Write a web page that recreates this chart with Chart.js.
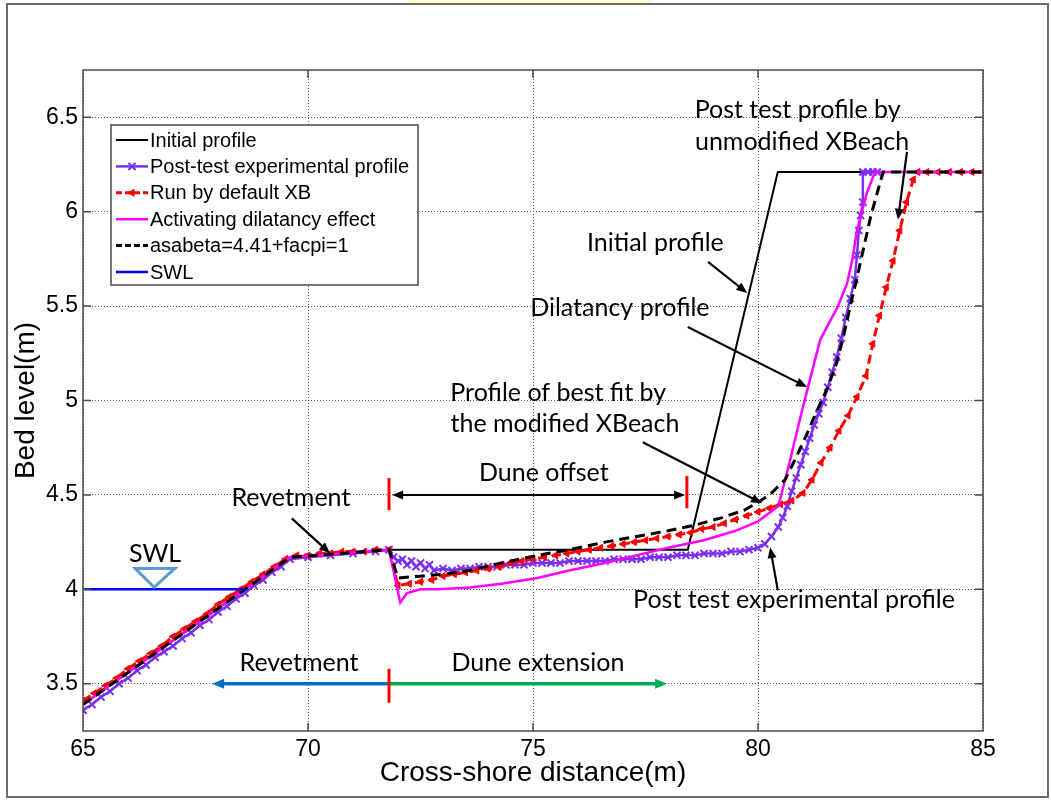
<!DOCTYPE html>
<html>
<head>
<meta charset="utf-8">
<script src="https://cdn.jsdelivr.net/npm/chart.js@4.4.0/dist/chart.umd.min.js"></script>
<style>
  html, body { margin: 0; padding: 0; background: #fff; }
</style>
</head>
<body>
<canvas id="chart" width="1051" height="801"></canvas>
<script>
// tick labels
const xTickValues = [65, 70, 75, 80, 85];
const yTickValues = [3.5, 4, 4.5, 5, 5.5, 6, 6.5];

// Initial profile
const initialX = [65, 69.6, 71.8, 78.44, 80.44, 85];
const initialY = [3.39, 4.17, 4.21, 4.21, 6.21, 6.21];

// Post-test experimental profile
const postX = [65.0,65.2,65.4,65.6,65.8,66.0,66.2,66.4,66.6,66.8,67.0,67.2,67.4,67.6,67.8,68.0,68.2,68.4,68.6,68.8,69.0,69.2,69.4,69.6,
  70.0,70.5,71.0,71.5,71.8,
  71.9,72.0,72.1,72.2,72.3,72.4,72.5,72.6,72.7,72.8,
  73.0,73.2,73.4,73.6,73.8,74.0,74.2,74.4,74.6,74.8,75.0,75.2,75.4,75.6,75.8,76.0,76.2,76.4,76.6,76.8,
  77.0,77.2,77.4,77.6,77.8,78.0,78.2,78.4,78.6,78.8,79.0,79.2,79.4,79.6,79.8,80.0,
  80.15,80.3,80.45,80.55,80.65,80.75,80.85,80.95,81.05,81.15,81.25,81.35,81.45,81.55,81.65,81.75,81.85,81.95,82.05,82.15,
  82.2,82.24,82.28,82.33,82.33,82.45,82.55,82.65];
const postY = [3.36,3.39,3.43,3.46,3.50,3.53,3.57,3.60,3.64,3.67,3.70,3.74,3.77,3.81,3.84,3.88,3.91,3.95,3.98,4.02,4.05,4.09,4.12,4.16,
  4.17,4.18,4.19,4.20,4.21,
  4.17,4.15,4.16,4.13,4.15,4.12,4.14,4.11,4.13,4.10,
  4.11,4.10,4.11,4.11,4.12,4.12,4.12,4.13,4.13,4.13,4.14,4.14,4.14,4.14,4.15,4.15,4.15,4.15,4.15,4.16,
  4.16,4.16,4.16,4.17,4.17,4.17,4.18,4.18,4.18,4.19,4.19,4.19,4.20,4.20,4.21,4.22,
  4.24,4.28,4.33,4.38,4.44,4.52,4.59,4.66,4.73,4.80,4.87,4.93,4.99,5.07,5.15,5.23,5.33,5.44,5.54,5.64,
  5.77,5.90,5.98,6.05,6.21,6.21,6.21,6.21];

// Run by default XB
const defaultX = [65.0,65.25,65.5,65.75,66.0,66.25,66.5,66.75,67.0,67.25,67.5,67.75,68.0,68.25,68.5,68.75,69.0,69.25,69.5,69.75,70.0,70.25,70.5,70.75,71.0,71.25,71.5,
  71.8,
  72.0,72.25,72.5,72.75,73.0,73.25,73.5,73.75,74.0,74.25,74.5,74.75,75.0,75.25,75.5,75.75,76.0,76.25,76.5,76.75,77.0,77.25,77.5,77.75,78.0,78.25,78.5,78.75,79.0,79.25,79.5,79.75,80.0,80.25,80.5,80.75,81.0,
  81.2,81.4,81.6,81.8,82.0,82.2,82.4,
  82.55,82.7,82.85,83.0,83.15,83.3,83.45,83.55,
  83.75,84.0,84.25,84.5,84.75,85.0];
const defaultY = [3.41,3.45,3.49,3.53,3.58,3.62,3.66,3.70,3.75,3.79,3.83,3.87,3.92,3.96,4.00,4.04,4.08,4.12,4.16,4.18,4.18,4.19,4.19,4.20,4.20,4.20,4.21,
  4.21,
  4.02,4.03,4.04,4.05,4.07,4.08,4.09,4.10,4.11,4.12,4.14,4.15,4.16,4.17,4.18,4.19,4.20,4.21,4.22,4.23,4.24,4.25,4.26,4.27,4.28,4.29,4.30,4.32,4.33,4.35,4.37,4.39,4.41,4.43,4.45,4.47,4.51,
  4.58,4.67,4.75,4.84,4.92,5.02,5.13,
  5.30,5.45,5.60,5.74,5.90,6.05,6.17,6.21,
  6.21,6.21,6.21,6.21,6.21,6.21];

// Activating dilatancy effect
const dilatX = [65, 69.6, 71.8, 72.05, 72.2, 72.5, 72.9, 73.6, 74.3, 75.1, 75.8, 76.6, 77.3,
  78.0, 78.8, 79.5, 80.0, 80.45, 80.7, 80.9, 81.1, 81.38, 81.6, 81.76, 81.98, 82.1, 82.2, 82.42, 82.6, 85];
const dilatY = [3.39, 4.17, 4.21, 3.93, 3.98, 4.00, 4.00, 4.01, 4.03, 4.06, 4.10, 4.14, 4.18,
  4.22, 4.26, 4.31, 4.36, 4.44, 4.67, 4.87, 5.06, 5.32, 5.42, 5.49, 5.62, 5.75, 5.90, 6.10, 6.21, 6.21];

// asabeta=4.41+facpi=1
const bestX = [65, 69.6, 71.8, 72.0, 72.5, 73.0, 73.6, 74.3, 75.1, 75.8, 76.6, 77.3, 78.0,
  78.6, 79.2, 79.7, 80.0, 80.3, 80.6, 80.85, 81.1, 81.3, 81.55, 81.75, 81.9, 82.05, 82.2, 82.35, 82.5, 82.65, 82.78, 85];
const bestY = [3.39, 4.17, 4.21, 4.06, 4.07, 4.08, 4.10, 4.14, 4.18, 4.21, 4.25, 4.28, 4.31,
  4.34, 4.38, 4.42, 4.46, 4.51, 4.58, 4.70, 4.83, 4.94, 5.07, 5.20, 5.34, 5.50, 5.65, 5.81, 5.97, 6.10, 6.21, 6.21];

// SWL
const swlX = [65, 68.6];
const swlY = [4, 4];

const toPoints = (xs, ys) => xs.map((x, i) => ({ x: x, y: ys[i] }));

// text notes and arrows, in data units
const notes = [
  { text: 'Post test profile by', x: 80.88, y: 6.54 },
  { text: 'unmodified XBeach', x: 80.98, y: 6.37 },
  { text: 'Initial profile', x: 77.72, y: 5.835 },
  { text: 'Dilatancy profile', x: 76.93, y: 5.49 },
  { text: 'Profile of best fit by', x: 75.56, y: 5.039 },
  { text: 'the modified XBeach', x: 75.71, y: 4.875 },
  { text: 'Dune offset', x: 75.24, y: 4.615 },
  { text: 'Revetment', x: 69.62, y: 4.483 },
  { text: 'SWL', x: 66.6, y: 4.19 },
  { text: 'Post test experimental profile', x: 80.8, y: 3.942 },
  { text: 'Revetment', x: 69.8, y: 3.608 },
  { text: 'Dune extension', x: 75.11, y: 3.608 }
];
const pointerArrows = [
  [83.31, 6.317, 83.11, 5.957],
  [78.89, 5.734, 79.76, 5.569],
  [78.44, 5.389, 81.09, 5.071],
  [77.44, 4.779, 80.09, 4.456],
  [69.64, 4.376, 70.49, 4.191],
  [80.44, 3.995, 80.27, 4.223]
];

const noteFont = '25px Lato, "Open Sans", sans-serif';
const axisFont = 'Liberation Sans';

function arrowHead(c, x1, y1, x2, y2, head, half) {
  const a = Math.atan2(y2 - y1, x2 - x1);
  const bx = x2 - head * Math.cos(a), by = y2 - head * Math.sin(a);
  c.beginPath();
  c.moveTo(x2, y2);
  c.lineTo(bx + half * Math.sin(a), by - half * Math.cos(a));
  c.lineTo(bx - half * Math.sin(a), by + half * Math.cos(a));
  c.closePath();
  c.fill();
}

function arrow(c, x1, y1, x2, y2, color, w, head, half, both) {
  const a = Math.atan2(y2 - y1, x2 - x1);
  c.strokeStyle = color;
  c.fillStyle = color;
  c.lineWidth = w;
  c.beginPath();
  c.moveTo(both ? x1 + Math.cos(a) * head * 0.7 : x1, both ? y1 + Math.sin(a) * head * 0.7 : y1);
  c.lineTo(x2 - Math.cos(a) * head * 0.7, y2 - Math.sin(a) * head * 0.7);
  c.stroke();
  arrowHead(c, x1, y1, x2, y2, head, half);
  if (both) arrowHead(c, x2, y2, x1, y1, head, half);
}

function legendMarker(c, ds, x, y) {
  const r = ds.pointRadius || 0;
  if (!r) return;
  c.setLineDash([]);
  c.strokeStyle = ds.pointBorderColor;
  c.fillStyle = ds.pointBackgroundColor || ds.pointBorderColor;
  c.lineWidth = ds.pointBorderWidth || 1;
  c.beginPath();
  if (ds.pointStyle === 'crossRot') {
    const d = r * 0.707;
    c.moveTo(x - d, y - d); c.lineTo(x + d, y + d);
    c.moveTo(x + d, y - d); c.lineTo(x - d, y + d);
    c.stroke();
  } else if (ds.pointStyle === 'triangle') {
    c.moveTo(x - r, y); c.lineTo(x + r * 0.5, y - r * 0.87); c.lineTo(x + r * 0.5, y + r * 0.87);
    c.closePath(); c.fill(); c.stroke();
  }
}

const decor = {
  id: 'decor',
  beforeDraw(chart) {
    const c = chart.ctx;
    c.save();
    c.fillStyle = '#fff';
    c.fillRect(0, 0, chart.width, chart.height);
    c.fillStyle = '#ffffcc';
    c.fillRect(409, 0, 242, 3);
    c.strokeStyle = '#6a6a6a';
    c.lineWidth = 2;
    c.strokeRect(7, 4, 1041, 793);
    c.restore();
  },
  afterDatasetsDraw(chart) {
    const c = chart.ctx;
    const a = chart.chartArea;
    const sx = chart.scales.x, sy = chart.scales.y;
    const px = v => sx.getPixelForValue(v), py = v => sy.getPixelForValue(v);
    c.save();

    // box and inner ticks
    c.setLineDash([]);
    c.strokeStyle = '#4a4a4a';
    c.lineWidth = 1.5;
    c.strokeRect(a.left, a.top, a.right - a.left, a.bottom - a.top);
    c.beginPath();
    xTickValues.slice(1, -1).forEach(v => {
      c.moveTo(px(v), a.bottom); c.lineTo(px(v), a.bottom - 8);
      c.moveTo(px(v), a.top); c.lineTo(px(v), a.top + 8);
    });
    yTickValues.forEach(v => {
      c.moveTo(a.left, py(v)); c.lineTo(a.left + 8, py(v));
      c.moveTo(a.right, py(v)); c.lineTo(a.right - 8, py(v));
    });
    c.stroke();

    // legend
    const lx = a.left + 28, ly = a.top + 55, lw = 307, lh = 160;
    c.fillStyle = '#fff';
    c.fillRect(lx, ly, lw, lh);
    c.strokeStyle = '#4a4a4a';
    c.lineWidth = 1.5;
    c.strokeRect(lx, ly, lw, lh);
    c.font = '20px ' + axisFont;
    c.textBaseline = 'middle';
    c.textAlign = 'left';
    chart.data.datasets.forEach((ds, i) => {
      const y = ly + 15 + i * 26.4;
      c.strokeStyle = ds.borderColor;
      c.lineWidth = Math.min(ds.borderWidth, 3);
      c.setLineDash(ds.borderDash ? [6, 3] : []);
      c.beginPath();
      c.moveTo(lx + 5, y); c.lineTo(lx + 37, y);
      c.stroke();
      legendMarker(c, ds, lx + 21, y);
      c.fillStyle = '#000';
      c.fillText(ds.label, lx + 39, y + 1);
    });

    // pointer arrows
    c.setLineDash([]);
    pointerArrows.forEach(p => arrow(c, px(p[0]), py(p[1]), px(p[2]), py(p[3]), '#000', 2.2, 11, 4.5, false));

    // dune offset
    arrow(c, px(71.87), py(4.5), px(78.38), py(4.5), '#000', 2, 11, 4.5, true);
    // revetment / dune extension
    arrow(c, px(71.8), py(3.5), px(67.87), py(3.5), '#0070c0', 3.5, 12, 5, false);
    arrow(c, px(71.8), py(3.5), px(77.98), py(3.5), '#00b050', 3.5, 12, 5, false);

    // red markers
    c.strokeStyle = '#ff0000';
    c.lineWidth = 3;
    c.beginPath();
    [[71.8, 4.42, 4.59], [78.42, 4.43, 4.60], [71.8, 3.40, 3.58]].forEach(m => {
      c.moveTo(px(m[0]), py(m[1])); c.lineTo(px(m[0]), py(m[2]));
    });
    c.stroke();

    // SWL triangle
    c.strokeStyle = '#5b9bd5';
    c.lineWidth = 3;
    c.beginPath();
    c.moveTo(px(66.16), py(4.111));
    c.lineTo(px(67.04), py(4.111));
    c.lineTo(px(66.58), py(4.011));
    c.closePath();
    c.stroke();

    // texts
    c.fillStyle = '#000';
    c.font = noteFont;
    c.textAlign = 'center';
    c.textBaseline = 'middle';
    notes.forEach(n => c.fillText(n.text, px(n.x), py(n.y)));
    c.restore();
  }
};

const ctx = document.getElementById('chart').getContext('2d');
new Chart(ctx, {
  type: 'scatter',
  data: {
    datasets: [
      { label: 'Initial profile', data: toPoints(initialX, initialY), showLine: true,
        borderColor: '#000000', borderWidth: 2, pointRadius: 0, order: 6 },
      { label: 'Post-test experimental profile', data: toPoints(postX, postY), showLine: true,
        borderColor: '#7b2ff2', borderWidth: 2.5, pointStyle: 'crossRot', pointRadius: 5,
        pointBorderWidth: 2, pointBorderColor: '#7b2ff2', pointBackgroundColor: '#7b2ff2', order: 5 },
      { label: 'Run by default XB', data: toPoints(defaultX, defaultY), showLine: true,
        borderColor: '#ff0000', borderWidth: 3, borderDash: [9, 5], pointStyle: 'triangle', pointRotation: -90,
        pointRadius: 4, pointBorderWidth: 1, pointBorderColor: '#ff0000', pointBackgroundColor: '#ff0000', order: 4 },
      { label: 'Activating dilatancy effect', data: toPoints(dilatX, dilatY), showLine: true,
        borderColor: '#ff00ff', borderWidth: 2.5, pointRadius: 0, order: 3 },
      { label: 'asabeta=4.41+facpi=1', data: toPoints(bestX, bestY), showLine: true,
        borderColor: '#000000', borderWidth: 3, borderDash: [10, 6], pointRadius: 0, order: 2 },
      { label: 'SWL', data: toPoints(swlX, swlY), showLine: true,
        borderColor: '#0000ff', borderWidth: 2.5, pointRadius: 0, order: 1 }
    ]
  },
  options: {
    responsive: false,
    animation: false,
    events: [],
    layout: { padding: { left: 0, top: 70, right: 68, bottom: 0 } },
    plugins: { legend: { display: false }, tooltip: { enabled: false } },
    scales: {
      x: {
        type: 'linear', min: 65, max: 85,
        afterBuildTicks: s => { s.ticks = xTickValues.map(v => ({ value: v })); },
        afterFit: s => { s.height = 70; },
        grid: { color: '#555', lineWidth: 1, drawTicks: false },
        border: { display: false, dash: [1, 2] },
        ticks: { color: '#000', padding: 5, maxRotation: 0, font: { family: axisFont, size: 23 },
          callback: v => String(v) },
        title: { display: true, text: 'Cross-shore distance(m)', color: '#000',
          font: { family: axisFont, size: 28 }, padding: { top: 0, bottom: 11 } }
      },
      y: {
        type: 'linear', min: 3.25, max: 6.75,
        afterBuildTicks: s => { s.ticks = yTickValues.map(v => ({ value: v })); },
        afterFit: s => { s.width = 83; },
        grid: { color: '#555', lineWidth: 1, drawTicks: false },
        border: { display: false, dash: [1, 2] },
        ticks: { color: '#000', padding: 5, font: { family: axisFont, size: 23 },
          callback: v => String(v) },
        title: { display: true, text: 'Bed level(m)', color: '#000',
          font: { family: axisFont, size: 28 }, padding: { top: 9, bottom: 0 } }
      }
    }
  },
  plugins: [decor]
});
</script>
</body>
</html>
